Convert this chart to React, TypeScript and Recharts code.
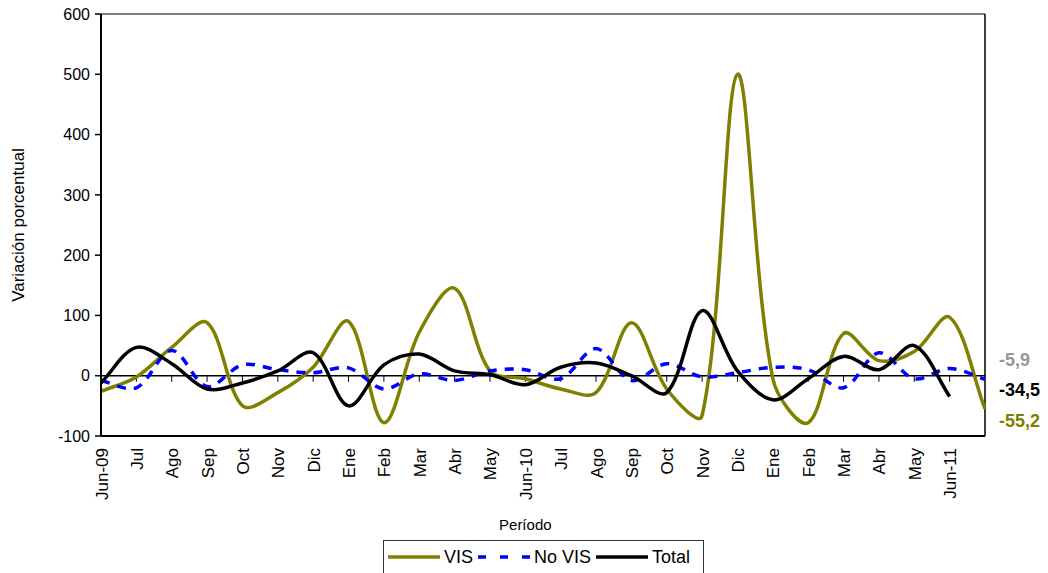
import React from 'react';
import { LineChart, Line, XAxis, YAxis, ReferenceLine, ReferenceDot, Legend } from 'recharts';

// months (last slot has no label)
const categories = [
  'Jun-09', 'Jul', 'Ago', 'Sep', 'Oct', 'Nov', 'Dic', 'Ene', 'Feb', 'Mar', 'Abr', 'May',
  'Jun-10', 'Jul', 'Ago', 'Sep', 'Oct', 'Nov', 'Dic', 'Ene', 'Feb', 'Mar', 'Abr', 'May',
  'Jun-11', '',
];

const vis = [
  -26, -2, 47, 88, -50, -28, 14, 90, -78, 72, 145, 8,
  -5, -22, -28, 88, -22, -66, 500, -5, -78, 70, 25, 40,
  97, -55.2,
];

const noVis = [
  -8, -20, 42, -18, 18, 10, 5, 13, -22, 3, -8, 8,
  10, -5, 45, -8, 20, -2, 5, 14, 10, -20, 38, -5,
  12, -5.9,
];

const total = [
  -12, 47, 20, -22, -12, 8, 38, -50, 18, 36, 8, 2,
  -15, 14, 21, 0, -28, 108, 8, -40, -5, 32, 10, 50,
  -34.5, null,
];

const yTicks = [-100, 0, 100, 200, 300, 400, 500, 600];

const endLabels = [
  { value: -5.9, text: '-5,9', color: '#969696', dy: -18 },
  { value: -34.5, text: '-34,5', color: '#000000', dy: -6 },
  { value: -55.2, text: '-55,2', color: '#808000', dy: 13 },
];

const series = [
  { key: 'vis', name: 'VIS', color: '#808000', dash: undefined as string | undefined },
  { key: 'noVis', name: 'No VIS', color: '#0000FF', dash: '9 8' },
  { key: 'total', name: 'Total', color: '#000000', dash: undefined },
];

const FONT = "'Liberation Sans', Arial, sans-serif";

const rows = categories.map((c, i) => ({
  i,
  label: c,
  vis: vis[i],
  noVis: noVis[i],
  total: total[i],
}));
const idx = categories.map((_, i) => i);

// Excel-like smoothing: tangents scaled by neighbouring chord lengths
const smooth = (context: any) => {
  let pts: number[][] = [];
  const dist = (a: number[], b: number[]) => Math.hypot(b[0] - a[0], b[1] - a[1]);
  return {
    areaStart() {},
    areaEnd() {},
    lineStart() {
      pts = [];
    },
    point(x: number, y: number) {
      pts.push([+x, +y]);
    },
    lineEnd() {
      const n = pts.length;
      if (!n) return;
      context.moveTo(pts[0][0], pts[0][1]);
      for (let k = 0; k < n - 1; k++) {
        const p0 = pts[k - 1] || pts[k];
        const p1 = pts[k];
        const p2 = pts[k + 1];
        const p3 = pts[k + 2] || p2;
        const d01 = dist(p0, p1);
        const d12 = dist(p1, p2);
        const d23 = dist(p2, p3);
        const f1 = d01 + d12 > 0 ? d12 / (d01 + d12) / 3 : 0;
        const f2 = d12 + d23 > 0 ? d12 / (d12 + d23) / 3 : 0;
        context.bezierCurveTo(
          p1[0] + (p2[0] - p0[0]) * f1,
          p1[1] + (p2[1] - p0[1]) * f1,
          p2[0] - (p3[0] - p1[0]) * f2,
          p2[1] - (p3[1] - p1[1]) * f2,
          p2[0],
          p2[1]
        );
      }
    },
  };
};

const XTick = (props: any) => {
  const { x, y, payload } = props;
  const text = categories[payload.value];
  if (!text) return null;
  const ty = y + 12;
  return (
    <text
      x={x + 1}
      y={ty}
      transform={`rotate(-90 ${x + 1} ${ty})`}
      textAnchor="end"
      dominantBaseline="central"
      fontSize={17}
      fill="#000"
      fontFamily={FONT}
    >
      {text}
    </text>
  );
};

const PeriodoLabel = (props: any) => {
  const { viewBox } = props;
  return (
    <text
      x={viewBox.x + viewBox.width * 0.48}
      y={viewBox.y + 88}
      textAnchor="middle"
      dominantBaseline="central"
      fontSize={15}
      fontFamily={FONT}
      fill="#000"
    >
      Período
    </text>
  );
};

const YTitle = (props: any) => {
  const { viewBox } = props;
  const cx = 18;
  const cy = viewBox.y + viewBox.height / 2;
  return (
    <text
      x={cx}
      y={cy}
      transform={`rotate(-90 ${cx} ${cy})`}
      textAnchor="middle"
      dominantBaseline="central"
      fontSize={17}
      fontFamily={FONT}
      fill="#000"
    >
      Variación porcentual
    </text>
  );
};

const LegendBox = () => (
  <div
    style={{
      display: 'flex',
      alignItems: 'center',
      border: '1px solid #333',
      height: 36,
      boxSizing: 'border-box',
      padding: '0 8px 2px 4px',
      fontFamily: FONT,
      fontSize: 18,
      color: '#000',
      background: '#fff',
    }}
  >
    {series.map((s) => (
      <div key={s.key} style={{ display: 'flex', alignItems: 'center', marginRight: 5 }}>
        <svg width={52} height={8} style={{ marginRight: 4 }}>
          <line
            x1={0}
            y1={4}
            x2={52}
            y2={4}
            stroke={s.color}
            strokeWidth={3.5}
            strokeDasharray={s.dash ? '8 14' : undefined}
          />
        </svg>
        <span>{s.name}</span>
      </div>
    ))}
  </div>
);

const EndLabel = (color: string, text: string, dy: number) => (props: any) => {
  const { viewBox } = props;
  return (
    <text
      x={viewBox.x + 15}
      y={viewBox.y + dy}
      dominantBaseline="central"
      fontSize={18}
      fontWeight="bold"
      fontFamily={FONT}
      fill={color}
    >
      {text}
    </text>
  );
};

const App = () => {
  return (
    <div style={{ position: 'absolute', left: 0, top: 0, width: 1048, height: 573, overflow: 'hidden', background: '#fff' }}>
      <LineChart
        width={1048}
        height={573}
        data={rows}
        margin={{ top: 14, right: 63, bottom: 0, left: 0 }}
        style={{ fontFamily: FONT }}
      >
        <XAxis
          type="number"
          dataKey="i"
          domain={[0, 25]}
          ticks={idx}
          interval={0}
          tick={<XTick />}
          tickLine={false}
          tickSize={0}
          tickMargin={0}
          axisLine={{ stroke: '#000', strokeWidth: 2 }}
          height={137}
          label={{ content: PeriodoLabel }}
        />
        <YAxis
          type="number"
          domain={[-100, 600]}
          ticks={yTicks}
          interval={0}
          width={101}
          axisLine={{ stroke: '#000', strokeWidth: 2 }}
          tickLine={{ stroke: '#000', strokeWidth: 1.5 }}
          tickSize={6}
          tickMargin={5}
          tick={{ fontSize: 16, fill: '#000', fontFamily: FONT }}
          label={{ content: YTitle }}
        />
        <ReferenceLine y={600} stroke="#808080" strokeWidth={2} />
        <ReferenceLine x={25} stroke="#000" strokeWidth={1.5} />
        <ReferenceLine y={0} stroke="#000" strokeWidth={1.5} />
        {idx.slice(1, 25).map((i) => (
          <ReferenceLine
            key={`t${i}`}
            segment={[
              { x: i, y: 0 },
              { x: i, y: -10 },
            ]}
            stroke="#000"
            strokeWidth={1}
          />
        ))}
        {series.map((s) => (
          <Line
            key={s.key}
            dataKey={s.key}
            name={s.name}
            type={smooth as any}
            stroke={s.color}
            strokeWidth={3.5}
            strokeDasharray={s.dash}
            dot={false}
            activeDot={false}
            isAnimationActive={false}
          />
        ))}
        {endLabels.map((l) => (
          <ReferenceDot
            key={l.text}
            x={25}
            y={l.value}
            r={1}
            fill="none"
            stroke="none"
            label={{ content: EndLabel(l.color, l.text, l.dy) }}
          />
        ))}
        <Legend
          layout="vertical"
          verticalAlign="middle"
          align="center"
          content={<LegendBox />}
          wrapperStyle={{ left: 383, top: 540, width: 'auto' }}
        />
      </LineChart>
    </div>
  );
};

export default App;
